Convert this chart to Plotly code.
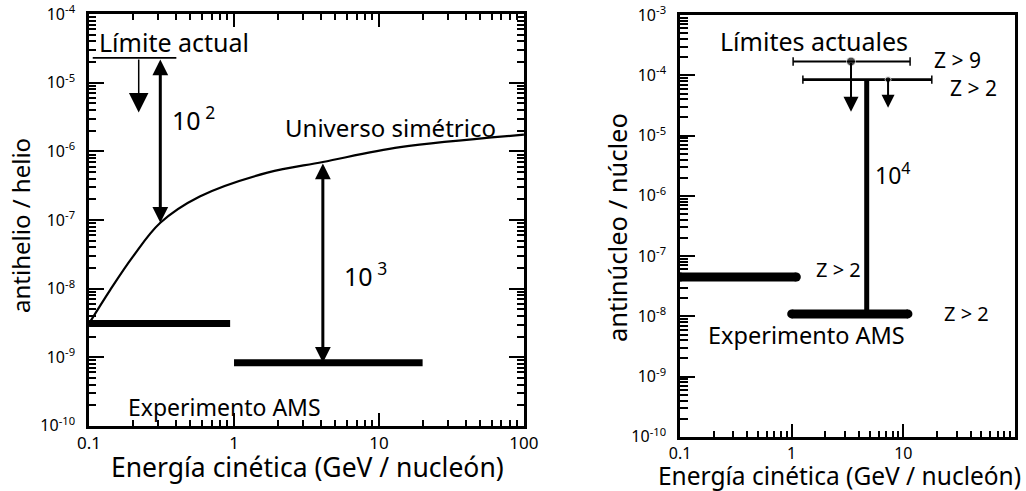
import numpy as np
import plotly.graph_objects as go

# ---------------- Left panel: antihelio / helio ----------------
sym_energy = [0.1, 0.14, 0.2, 0.31, 0.58, 1.7, 4.1, 14, 100]
sym_ratio = [3.1e-9, 9.6e-9, 2.9e-8, 9.1e-8, 2.2e-7, 4.9e-7, 7.0e-7, 1.15e-6, 1.75e-6]

ams_he_low_energy = [0.1, 0.94]
ams_he_low_ratio = [3.1e-9, 3.1e-9]
ams_he_high_energy = [1.0, 20]
ams_he_high_ratio = [8.3e-10, 8.3e-10]

limit_he_energy = [0.106, 0.40]
limit_he_ratio = [2.3e-5, 2.3e-5]
limit_he_arrow_x = 0.22
limit_he_arrow_tip = 3.7e-6

gap_100_x = 0.31
gap_100_y = [2.3e-5, 9.1e-8]
gap_1000_x = 4.1
gap_1000_y = [7.0e-7, 8.3e-10]

# ---------------- Right panel: antinúcleo / núcleo ----------------
ams_nuc_low_energy = [0.1, 1.1]
ams_nuc_low_ratio = [4.5e-8, 4.5e-8]
ams_nuc_high_energy = [1.0, 11]
ams_nuc_high_ratio = [1.1e-8, 1.1e-8]

lim_z9_energy = [1.03, 11.5]
lim_z9_ratio = [1.7e-4, 1.7e-4]
lim_z9_point = 3.4
lim_z9_tip = 2.5e-5

lim_z2_energy = [1.26, 18]
lim_z2_ratio = [8.5e-5, 8.5e-5]
lim_z2_point = 7.3
lim_z2_tip = 2.9e-5

gap_10000_x = 4.7
gap_10000_y = [8.5e-5, 1.1e-8]

x_ticks = [0.1, 1, 10, 100]
x_labels = ["0.1", "1", "10", "100"]
left_exps = [-10, -9, -8, -7, -6, -5, -4]
right_exps = [-10, -9, -8, -7, -6, -5, -4, -3]

FONT = "Noto Sans, DejaVu Sans, sans-serif"
W, H = 1026, 491

fig = go.Figure()

def line(x, y, xa, ya, width, **kw):
    fig.add_trace(go.Scatter(x=x, y=y, mode="lines", xaxis=xa, yaxis=ya,
                             line=dict(color="black", width=width), showlegend=False,
                             hoverinfo="skip", **kw))

# left traces
line(sym_energy, sym_ratio, "x", "y", 2.2, line_shape="spline")
line(ams_he_low_energy, ams_he_low_ratio, "x", "y", 7)
line(ams_he_high_energy, ams_he_high_ratio, "x", "y", 7)
line(limit_he_energy, limit_he_ratio, "x", "y", 1.8)

# right traces
for ex, ey in [(ams_nuc_low_energy, ams_nuc_low_ratio), (ams_nuc_high_energy, ams_nuc_high_ratio)]:
    fig.add_trace(go.Scatter(x=ex, y=ey, mode="lines+markers", xaxis="x2", yaxis="y2",
                             line=dict(color="black", width=9),
                             marker=dict(color="black", size=9, symbol="circle"),
                             showlegend=False, hoverinfo="skip"))
for ex, ey, w in [(lim_z9_energy, lim_z9_ratio, 1.8), (lim_z2_energy, lim_z2_ratio, 2.6)]:
    fig.add_trace(go.Scatter(x=ex, y=ey, mode="lines+markers", xaxis="x2", yaxis="y2",
                             line=dict(color="black", width=w),
                             marker=dict(color="black", size=6, symbol="line-ns",
                                         line=dict(color="black", width=1.5)),
                             showlegend=False, hoverinfo="skip"))
fig.add_trace(go.Scatter(x=[lim_z9_point, lim_z2_point], y=[lim_z9_ratio[0], lim_z2_ratio[0]],
                         mode="markers", xaxis="x2", yaxis="y2",
                         marker=dict(color="black", size=[9, 6]),
                         showlegend=False, hoverinfo="skip"))
line([gap_10000_x, gap_10000_x], gap_10000_y, "x2", "y2", 5)

# empty traces so that the minor-tick overlay axes are drawn
for xa, ya in [("x3", "y"), ("x", "y3"), ("x4", "y2"), ("x2", "y4")]:
    fig.add_trace(go.Scatter(x=[], y=[], xaxis=xa, yaxis=ya, showlegend=False,
                             hoverinfo="skip"))

L = np.log10
anns = []

def arrow(xa, ya, x, y0, y1, width, size, both=False):
    anns.append(dict(xref=xa, yref=ya, axref=xa, ayref=ya,
                     x=L(x), y=L(y1), ax=L(x), ay=L(y0), showarrow=True,
                     arrowhead=2, startarrowhead=2, arrowwidth=width, arrowsize=size,
                     startarrowsize=size, arrowside="end+start" if both else "end",
                     arrowcolor="black", standoff=0, startstandoff=0, text=""))

arrow("x", "y", limit_he_arrow_x, limit_he_ratio[0], limit_he_arrow_tip, 1.5, 2.6)
arrow("x", "y", gap_100_x, gap_100_y[0], gap_100_y[1], 3, 1.05, both=True)
arrow("x", "y", gap_1000_x, gap_1000_y[0], gap_1000_y[1], 3, 1.05, both=True)
arrow("x2", "y2", lim_z9_point, lim_z9_ratio[0], lim_z9_tip, 2, 1.5)
arrow("x2", "y2", lim_z2_point, lim_z2_ratio[0], lim_z2_tip, 2, 1.3)

def text(xa, ya, x, y, s, size, xanchor="left"):
    anns.append(dict(xref=xa, yref=ya, x=L(x), y=L(y), text=s, showarrow=False,
                     xanchor=xanchor, yanchor="middle",
                     font=dict(family=FONT, size=size, color="black")))

text("x", "y", 0.113, 3.9e-5, "Límite actual", 25)
text("x", "y", 0.36, 3.0e-6, "10<sup> 2</sup>", 25)
text("x", "y", 5.6, 1.6e-8, "10<sup> 3</sup>", 25)
text("x", "y", 12, 2.25e-6, "Universo simétrico", 24, "center")
text("x", "y", 0.18, 1.9e-10, "Experimento AMS", 23)

text("x2", "y2", 1.6, 3.7e-4, "Límites actuales", 25, "center")
text("x2", "y2", 18, 1.8e-4, "Z &gt; 9", 21)
text("x2", "y2", 25, 6.2e-5, "Z &gt; 2", 21)
text("x2", "y2", 5.3, 2.3e-6, "10<sup>4</sup>", 23)
text("x2", "y2", 2.6, 6.0e-8, "Z &gt; 2", 20, "center")
text("x2", "y2", 22, 1.1e-8, "Z &gt; 2", 20)
text("x2", "y2", 0.17, 4.9e-9, "Experimento AMS", 23.5)

# axis titles
anns.append(dict(xref="paper", yref="paper", x=307 / W, y=1 - 467 / H,
                 xanchor="center", yanchor="middle",
                 text="Energía cinética (GeV / nucleón)", showarrow=False,
                 font=dict(family=FONT, size=26.5, color="black")))
anns.append(dict(xref="paper", yref="paper", x=839 / W, y=1 - 475 / H,
                 xanchor="center", yanchor="middle",
                 text="Energía cinética (GeV / nucleón)", showarrow=False,
                 font=dict(family=FONT, size=24.5, color="black")))
anns.append(dict(xref="paper", yref="paper", x=20 / W, y=1 - 226 / H, xanchor="center",
                 yanchor="middle", text="antihelio / helio", showarrow=False, textangle=-90,
                 font=dict(family=FONT, size=24, color="black")))
anns.append(dict(xref="paper", yref="paper", x=617 / W, y=1 - 228 / H, xanchor="center",
                 yanchor="middle", text="antinúcleo / núcleo", showarrow=False, textangle=-90,
                 font=dict(family=FONT, size=25.5, color="black")))

minor_x = [m * 10.0 ** e for e in range(-1, 2) for m in range(2, 10)]
minor_left_y = [m * 10.0 ** e for e in range(-10, -4) for m in range(2, 10)]
minor_right_y = [m * 10.0 ** e for e in range(-10, -3) for m in range(2, 10)]

XR = [-1.0005, 2.0005]
YR_L = [-10.002, -3.998]
YR_R = [-10.002, -2.998]

def xaxis(domain, mirror, anchor, size):
    return dict(type="log", range=XR, domain=domain, anchor=anchor, automargin=False,
                tickmode="array", tickvals=x_ticks, ticktext=x_labels,
                ticks="inside", ticklen=13, tickwidth=2, tickcolor="black",
                showline=True, linewidth=2.5, linecolor="black", mirror=mirror,
                showgrid=False, zeroline=False,
                tickfont=dict(family=FONT, size=size, color="black"))

def yaxis(domain, rng, exps, mirror, anchor):
    return dict(type="log", range=rng, domain=domain, anchor=anchor, automargin=False,
                tickmode="array", tickvals=[10.0 ** e for e in exps],
                ticktext=["10<sup>%d</sup>" % e for e in exps],
                ticks="inside", ticklen=15, tickwidth=2, tickcolor="black",
                showline=True, linewidth=2.5, linecolor="black", mirror=mirror,
                showgrid=False, zeroline=False, ticklabelstandoff=8,
                tickfont=dict(family=FONT, size=16, color="black"))

def minor_axis(rng, vals, over, anchor, mirror, length):
    return dict(type="log", range=rng, overlaying=over, anchor=anchor, automargin=False,
                tickmode="array", tickvals=vals, showticklabels=False,
                ticks="inside", ticklen=length, tickwidth=1.5, tickcolor="black",
                showline=False, showgrid=False, zeroline=False, mirror=mirror)

fig.update_layout(
    template="none",
    width=W, height=H, margin=dict(l=0, r=0, t=0, b=0, pad=0),
    paper_bgcolor="white", plot_bgcolor="white", showlegend=False,
    xaxis=xaxis([89 / W, 524 / W], "ticks", "y", 17),
    yaxis=yaxis([1 - 426 / H, 1 - 14 / H], YR_L, left_exps, "ticks", "x"),
    xaxis2=xaxis([680 / W, 1015 / W], True, "y2", 16),
    yaxis2=yaxis([1 - 437 / H, 1 - 15 / H], YR_R, right_exps, True, "x2"),
    xaxis3=minor_axis(XR, minor_x, "x", "y", "ticks", 6),
    yaxis3=minor_axis(YR_L, minor_left_y, "y", "x", "ticks", 7),
    xaxis4=minor_axis(XR, minor_x, "x2", "y2", False, 6),
    yaxis4=minor_axis(YR_R, minor_right_y, "y2", "x2", False, 8),
    annotations=anns,
)

fig.write_html("out.html")
